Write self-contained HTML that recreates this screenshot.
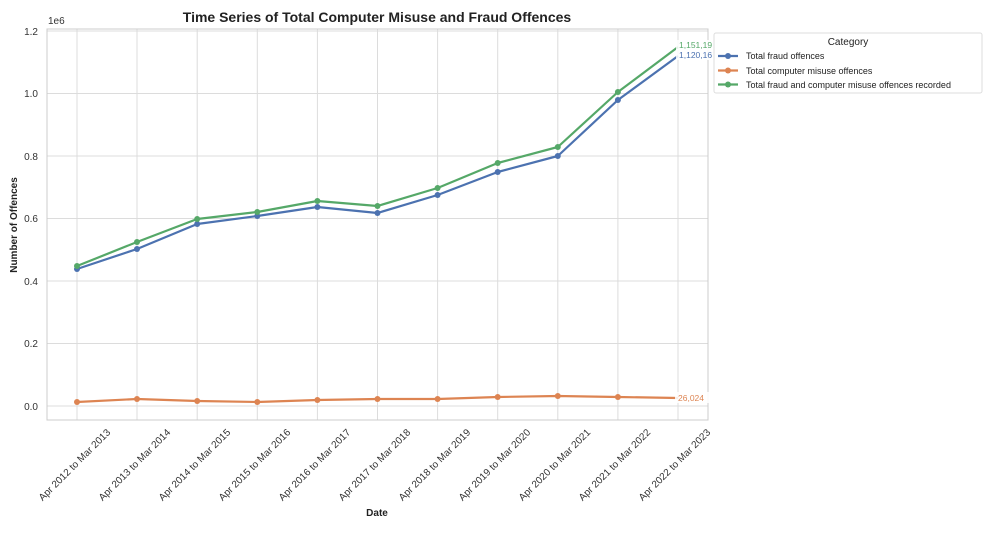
<!DOCTYPE html>
<html><head><meta charset="utf-8"><style>
body{margin:0;background:#fff;}
svg{display:block;font-family:"Liberation Sans",Arial,sans-serif;}
</style></head><body>
<svg width="989" height="534" viewBox="0 0 989 534" xmlns="http://www.w3.org/2000/svg">
<rect width="989" height="534" fill="#fff"/>
<!-- grid -->
<g stroke="#dcdcdc" stroke-width="1">
<line x1="47" x2="708" y1="406" y2="406"/><line x1="47" x2="708" y1="343.5" y2="343.5"/>
<line x1="47" x2="708" y1="281" y2="281"/><line x1="47" x2="708" y1="218.5" y2="218.5"/>
<line x1="47" x2="708" y1="156" y2="156"/><line x1="47" x2="708" y1="93.5" y2="93.5"/>
<line x1="47" x2="708" y1="31" y2="31"/>
<line x1="77" x2="77" y1="29" y2="420"/><line x1="137" x2="137" y1="29" y2="420"/>
<line x1="197.2" x2="197.2" y1="29" y2="420"/><line x1="257.3" x2="257.3" y1="29" y2="420"/>
<line x1="317.4" x2="317.4" y1="29" y2="420"/><line x1="377.5" x2="377.5" y1="29" y2="420"/>
<line x1="437.6" x2="437.6" y1="29" y2="420"/><line x1="497.7" x2="497.7" y1="29" y2="420"/>
<line x1="557.8" x2="557.8" y1="29" y2="420"/><line x1="617.9" x2="617.9" y1="29" y2="420"/>
<line x1="678" x2="678" y1="29" y2="420"/>
</g>
<rect x="47" y="29" width="661" height="391" fill="none" stroke="#cccccc" stroke-width="1"/>
<!-- y labels -->
<g font-size="10" fill="#333" text-anchor="end">
<text x="38" y="410">0.0</text><text x="38" y="347">0.2</text><text x="38" y="285">0.4</text>
<text x="38" y="222">0.6</text><text x="38" y="160">0.8</text><text x="38" y="97">1.0</text>
<text x="38" y="35">1.2</text>
</g>
<text x="48" y="24" font-size="10" fill="#333">1e6</text>
<text transform="translate(17,225) rotate(-90)" font-size="10" font-weight="bold" fill="#222" text-anchor="middle">Number of Offences</text>
<text x="377" y="516" font-size="10" font-weight="bold" fill="#222" text-anchor="middle">Date</text>
<text x="377" y="22" font-size="14" font-weight="bold" fill="#222" text-anchor="middle">Time Series of Total Computer Misuse and Fraud Offences</text>
<!-- x labels -->
<g font-size="10" fill="#333" text-anchor="end">
<text transform="translate(111,433) rotate(-45)">Apr 2012 to Mar 2013</text>
<text transform="translate(171,433) rotate(-45)">Apr 2013 to Mar 2014</text>
<text transform="translate(231,433) rotate(-45)">Apr 2014 to Mar 2015</text>
<text transform="translate(291,433) rotate(-45)">Apr 2015 to Mar 2016</text>
<text transform="translate(351,433) rotate(-45)">Apr 2016 to Mar 2017</text>
<text transform="translate(411,433) rotate(-45)">Apr 2017 to Mar 2018</text>
<text transform="translate(471,433) rotate(-45)">Apr 2018 to Mar 2019</text>
<text transform="translate(531,433) rotate(-45)">Apr 2019 to Mar 2020</text>
<text transform="translate(591,433) rotate(-45)">Apr 2020 to Mar 2021</text>
<text transform="translate(651,433) rotate(-45)">Apr 2021 to Mar 2022</text>
<text transform="translate(711,433) rotate(-45)">Apr 2022 to Mar 2023</text>
</g>
<!-- series -->
<g fill="none" stroke-width="2.2" stroke-linejoin="round">
<polyline stroke="#4c72b0" points="77,269 137,249 197.2,224 257.3,216 317.4,207 377.5,213 437.6,195 497.7,172 557.8,156 617.9,100 678,56"/>
<polyline stroke="#55a868" points="77,266 137,242 197.2,219 257.3,212 317.4,201 377.5,206 437.6,188 497.7,163 557.8,147 617.9,92 678,47"/>
<polyline stroke="#dd8452" points="77,402 137,399 197.2,401 257.3,402 317.4,400 377.5,399 437.6,399 497.7,397 557.8,396 617.9,397 678,398"/>
</g>
<g fill="#4c72b0"><circle cx="77" cy="269" r="3"/><circle cx="137" cy="249" r="3"/><circle cx="197.2" cy="224" r="3"/><circle cx="257.3" cy="216" r="3"/><circle cx="317.4" cy="207" r="3"/><circle cx="377.5" cy="213" r="3"/><circle cx="437.6" cy="195" r="3"/><circle cx="497.7" cy="172" r="3"/><circle cx="557.8" cy="156" r="3"/><circle cx="617.9" cy="100" r="3"/></g>
<g fill="#55a868"><circle cx="77" cy="266" r="3"/><circle cx="137" cy="242" r="3"/><circle cx="197.2" cy="219" r="3"/><circle cx="257.3" cy="212" r="3"/><circle cx="317.4" cy="201" r="3"/><circle cx="377.5" cy="206" r="3"/><circle cx="437.6" cy="188" r="3"/><circle cx="497.7" cy="163" r="3"/><circle cx="557.8" cy="147" r="3"/><circle cx="617.9" cy="92" r="3"/></g>
<g fill="#dd8452"><circle cx="77" cy="402" r="3"/><circle cx="137" cy="399" r="3"/><circle cx="197.2" cy="401" r="3"/><circle cx="257.3" cy="402" r="3"/><circle cx="317.4" cy="400" r="3"/><circle cx="377.5" cy="399" r="3"/><circle cx="437.6" cy="399" r="3"/><circle cx="497.7" cy="397" r="3"/><circle cx="557.8" cy="396" r="3"/><circle cx="617.9" cy="397" r="3"/></g>
<!-- annotations -->
<rect x="676" y="49" width="40" height="11" fill="#fff" opacity="0.85"/>
<text x="679" y="58" font-size="8.5" fill="#4c72b0">1,120,16</text>
<rect x="676" y="40" width="40" height="10" fill="#fff" opacity="0.85"/>
<text x="679" y="48" font-size="8.5" fill="#55a868">1,151,19</text>
<rect x="675" y="392" width="36" height="11" fill="#fff" opacity="0.85"/>
<text x="678" y="401" font-size="8.5" fill="#dd8452">26,024</text>
<!-- legend -->
<rect x="714" y="33" width="268" height="60" rx="2" fill="#fff" stroke="#dddddd"/>
<text x="848" y="45" font-size="10" fill="#222" text-anchor="middle">Category</text>
<g stroke-width="2.2"><line x1="718" x2="738" y1="56" y2="56" stroke="#4c72b0"/><line x1="718" x2="738" y1="70.5" y2="70.5" stroke="#dd8452"/><line x1="718" x2="738" y1="84.5" y2="84.5" stroke="#55a868"/></g>
<circle cx="728" cy="56" r="3" fill="#4c72b0"/><circle cx="728" cy="70.5" r="3" fill="#dd8452"/><circle cx="728" cy="84.5" r="3" fill="#55a868"/>
<g font-size="9" fill="#222"><text x="746" y="59">Total fraud offences</text><text x="746" y="74">Total computer misuse offences</text><text x="746" y="88">Total fraud and computer misuse offences recorded</text></g>
</svg>
</body></html>
